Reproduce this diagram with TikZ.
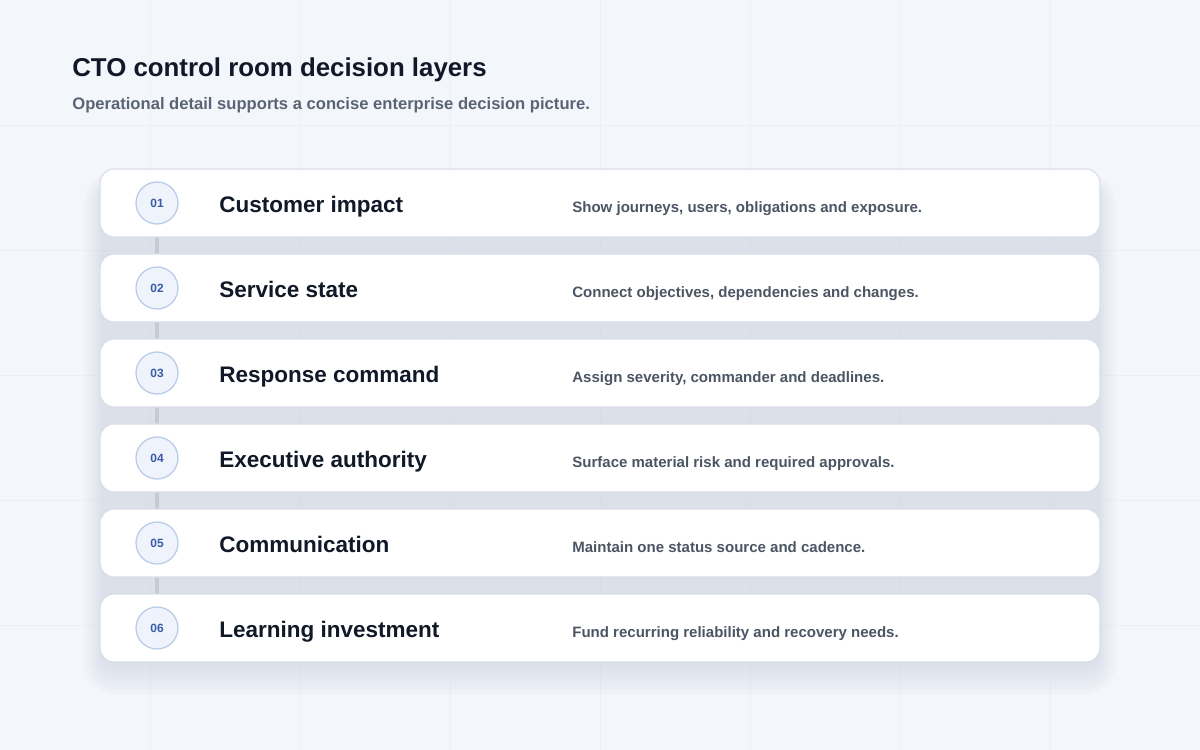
\documentclass[tikz,border=0pt]{standalone}
\usepackage{fontspec}
\setmainfont{Liberation Sans}
\usetikzlibrary{positioning,backgrounds}
\definecolor{pagebg}{HTML}{F3F6FB}
\definecolor{gridline}{HTML}{ECEFF5}
\definecolor{shadowgray}{HTML}{C4CBDA}
\definecolor{cardline}{HTML}{D8DDE8}
\definecolor{numline}{HTML}{B8CBE8}
\definecolor{numfill}{HTML}{EEF3FC}
\definecolor{numtext}{HTML}{3A5BA6}
\definecolor{inkdark}{HTML}{111827}
\definecolor{inkgray}{HTML}{4B5563}
\definecolor{subgray}{HTML}{5B6475}
\definecolor{spinegray}{HTML}{C6CAD2}

\tikzset{
	layercard/.style={draw=cardline, fill=white, rounded corners=8pt, minimum width=20cm, minimum height=1.36cm, line width=0.6pt},
	layernum/.style={circle, draw=numline, fill=numfill, minimum size=0.84cm, inner sep=0pt, line width=0.7pt, text=numtext, font=\bfseries\fontsize{6.8}{8}\selectfont},
	layertitle/.style={anchor=base west, inner sep=0pt, text=inkdark, font=\bfseries\fontsize{12.8}{15}\selectfont},
	layerdesc/.style={anchor=base west, inner sep=0pt, text=inkgray, font=\bfseries\fontsize{8.55}{10}\selectfont},
	spine/.style={draw=spinegray, line width=2.3pt},
	softshade/.style={fill=shadowgray, opacity=0.07}
}

\begin{document}
\begin{tikzpicture}[x=0.02cm, y=-0.02cm]
			%%%%% START %%%%%
			
			\useasboundingbox (0, 0) rectangle (1200, 750);
			
			\node[anchor=base west, inner sep=0pt, text=inkdark, font=\bfseries\fontsize{14.7}{17}\selectfont] (heading) at (72, 77) {CTO control room decision layers};
			\node[anchor=base west, inner sep=0pt, text=subgray, font=\bfseries\fontsize{9.45}{11}\selectfont] (subheading) at (72, 110) {Operational detail supports a concise enterprise decision picture.};
			
			\node[layercard] (card1) at (600, 203) {};
			\node[layernum] (num1) at (157, 203) {01};
			\node[layertitle] (title1) at (219, 212) {Customer impact};
			\node[layerdesc] (desc1) at (572, 212) {Show journeys, users, obligations and exposure.};
			
			\node[layercard] (card2) at (600, 288) {};
			\node[layernum] (num2) at (157, 288) {02};
			\node[layertitle] (title2) at (219, 297) {Service state};
			\node[layerdesc] (desc2) at (572, 297) {Connect objectives, dependencies and changes.};
			
			\node[layercard] (card3) at (600, 373) {};
			\node[layernum] (num3) at (157, 373) {03};
			\node[layertitle] (title3) at (219, 382) {Response command};
			\node[layerdesc] (desc3) at (572, 382) {Assign severity, commander and deadlines.};
			
			\node[layercard] (card4) at (600, 458) {};
			\node[layernum] (num4) at (157, 458) {04};
			\node[layertitle] (title4) at (219, 467) {Executive authority};
			\node[layerdesc] (desc4) at (572, 467) {Surface material risk and required approvals.};
			
			\node[layercard] (card5) at (600, 543) {};
			\node[layernum] (num5) at (157, 543) {05};
			\node[layertitle] (title5) at (219, 552) {Communication};
			\node[layerdesc] (desc5) at (572, 552) {Maintain one status source and cadence.};
			
			\node[layercard] (card6) at (600, 628) {};
			\node[layernum] (num6) at (157, 628) {06};
			\node[layertitle] (title6) at (219, 637) {Learning investment};
			\node[layerdesc] (desc6) at (572, 637) {Fund recurring reliability and recovery needs.};
			
			\begin{scope}[on background layer]
				\fill[pagebg] (0, 0) rectangle (1200, 750);
				\draw[gridline, line width=0.4pt] (150, 0) -- (150, 750) (300, 0) -- (300, 750) (450, 0) -- (450, 750) (600, 0) -- (600, 750) (750, 0) -- (750, 750) (900, 0) -- (900, 750) (1050, 0) -- (1050, 750);
				\draw[gridline, line width=0.4pt] (0, 125) -- (1200, 125) (0, 250) -- (1200, 250) (0, 375) -- (1200, 375) (0, 500) -- (1200, 500) (0, 625) -- (1200, 625);
				
				\fill[softshade, rounded corners=18pt] (84, 172) rectangle (1116, 694);
				\fill[softshade, rounded corners=16pt] (88, 175) rectangle (1112, 690);
				\fill[softshade, rounded corners=14pt] (91, 178) rectangle (1109, 686);
				\fill[softshade, rounded corners=12pt] (94, 180) rectangle (1106, 682);
				\fill[softshade, rounded corners=10pt] (96, 182) rectangle (1104, 678);
				\fill[softshade, rounded corners=9pt] (98, 184) rectangle (1102, 674);
				\fill[softshade, rounded corners=8pt] (100, 186) rectangle (1100, 670);
				\fill[softshade, rounded corners=8pt] (100, 188) rectangle (1100, 666);
				
				\draw[spine] (num1) -- (num2);
				\draw[spine] (num2) -- (num3);
				\draw[spine] (num3) -- (num4);
				\draw[spine] (num4) -- (num5);
				\draw[spine] (num5) -- (num6);
			\end{scope}
			
			%%%%% END %%%%%
\end{tikzpicture}
\end{document}
